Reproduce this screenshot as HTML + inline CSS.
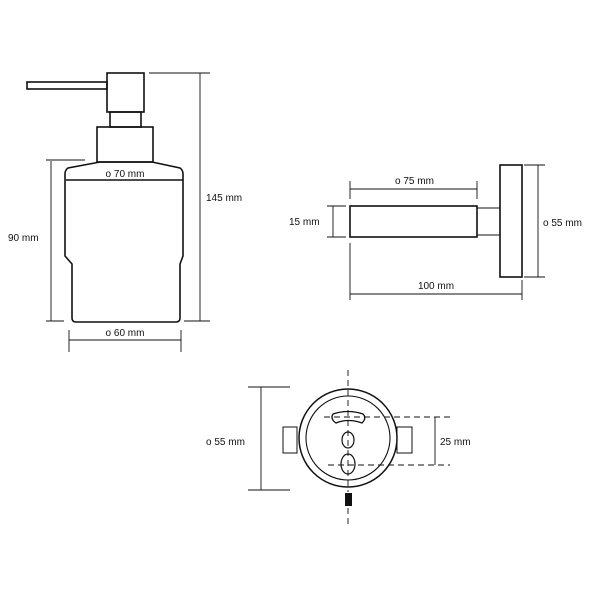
<!DOCTYPE html>
<html><head><meta charset="utf-8"><style>
html,body{margin:0;padding:0;background:#fff}
svg{display:block}
text{font-family:"Liberation Sans",sans-serif;font-size:10px;fill:#111}
</style></head><body>
<svg width="600" height="600" viewBox="0 0 600 600" xmlns="http://www.w3.org/2000/svg">
<g fill="none" stroke="#111" stroke-width="1.6">
<!-- dispenser -->
<rect x="27" y="82" width="80" height="7"/>
<rect x="107" y="73" width="37" height="39"/>
<rect x="110" y="112" width="31" height="15"/>
<rect x="97" y="127" width="56" height="35"/>
<path d="M100,162 L152,162 L180,168 Q183,170 183,174 L183,256 L180,264 L180,318 Q180,322 176,322 L76,322 Q72,322 72,318 L72,264 L65,256 L65,174 Q65,170 68,168 Z"/>
<line x1="66" y1="180" x2="183" y2="180"/>
</g>
<g fill="none" stroke="#111" stroke-width="0.9">
<line x1="51" y1="161" x2="51" y2="321"/>
<line x1="46" y1="160" x2="85" y2="160"/>
<line x1="46" y1="321" x2="64" y2="321"/>
<line x1="200" y1="73" x2="200" y2="321"/>
<line x1="149" y1="73" x2="210" y2="73"/>
<line x1="184" y1="321" x2="210" y2="321"/>
<line x1="69" y1="340" x2="181" y2="340"/>
<line x1="69" y1="330" x2="69" y2="352"/>
<line x1="181" y1="330" x2="181" y2="352"/>
</g>
<text x="8" y="241">90 mm</text>
<text x="206" y="201">145 mm</text>
<text x="125" y="177" text-anchor="middle">ο 70 mm</text>
<text x="125" y="336" text-anchor="middle">ο 60 mm</text>

<!-- towel holder side -->
<g fill="none" stroke="#111" stroke-width="1.6">
<rect x="350" y="206" width="127" height="31"/>
<rect x="477" y="208" width="23" height="27" stroke-width="1"/>
<rect x="500" y="165" width="22" height="112"/>
</g>
<g fill="none" stroke="#111" stroke-width="0.9">
<line x1="350" y1="189" x2="477" y2="189"/>
<line x1="350" y1="181" x2="350" y2="199"/>
<line x1="477" y1="181" x2="477" y2="199"/>
<line x1="333" y1="206" x2="333" y2="237"/>
<line x1="327" y1="206" x2="346" y2="206"/>
<line x1="327" y1="237" x2="346" y2="237"/>
<line x1="538" y1="165" x2="538" y2="277"/>
<line x1="524" y1="165" x2="545" y2="165"/>
<line x1="524" y1="277" x2="545" y2="277"/>
<line x1="350" y1="294" x2="522" y2="294"/>
<line x1="350" y1="243" x2="350" y2="300"/>
<line x1="522" y1="280" x2="522" y2="300"/>
</g>
<text x="289" y="225">15 mm</text>
<text x="395" y="184">ο 75 mm</text>
<text x="543" y="226">ο 55 mm</text>
<text x="436" y="289" text-anchor="middle">100 mm</text>

<!-- bottom view -->
<g fill="none" stroke="#111" stroke-width="1.5">
<rect x="283" y="427" width="14" height="26" stroke-width="1"/>
<rect x="397" y="427" width="15" height="26" stroke-width="1"/>
<circle cx="348" cy="438" r="49" fill="#fff"/>
<circle cx="348" cy="438" r="42" stroke-width="1.1"/>
<path d="M333,414 Q348,409 363,414 Q367,418 362,423 Q348,418 336,423 Q330,419 333,414 Z" stroke-width="1.3"/>
<ellipse cx="348" cy="440" rx="6" ry="8" stroke-width="1.2"/>
<ellipse cx="348" cy="464" rx="7" ry="10" stroke-width="1.2"/>
</g>
<g fill="none" stroke="#111" stroke-width="0.9" stroke-dasharray="6,4">
<line x1="348" y1="370" x2="348" y2="492"/>
<line x1="348" y1="508" x2="348" y2="525"/>
<line x1="324" y1="417" x2="450" y2="417"/>
<line x1="328" y1="465" x2="450" y2="465"/>
</g>
<rect x="345" y="493" width="7" height="13" fill="#111"/>
<g fill="none" stroke="#111" stroke-width="0.9">
<line x1="435" y1="417" x2="435" y2="465"/>
<line x1="261" y1="387" x2="261" y2="490"/>
<line x1="248" y1="387" x2="290" y2="387"/>
<line x1="248" y1="490" x2="290" y2="490"/>
</g>
<text x="440" y="445">25 mm</text>
<text x="206" y="445">ο 55 mm</text>
</svg>
</body></html>
